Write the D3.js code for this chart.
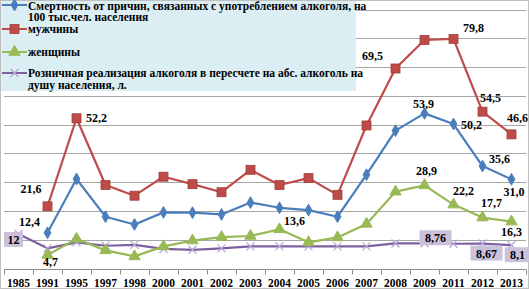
<!DOCTYPE html>
<html>
<head>
<meta charset="utf-8">
<script src="https://cdn.jsdelivr.net/npm/d3@7"></script>
<style>
  body { margin: 0; background: #fff; }
  svg { display: block; font-family: "Liberation Serif", "DejaVu Serif", serif; font-weight: bold; }
</style>
</head>
<body>
<div id="chart"></div>
<script>
var years = ['1985', '1991', '1995', '1997', '1998', '2000', '2001', '2002', '2003', '2004', '2005', '2006', '2007', '2008', '2009', '2011', '2012', '2013']
var total = [null, 12.4, 31.1, 18.0, 15.3, 19.5, 19.4, 18.8, 22.9, 21.1, 20.3, 18.0, 32.6, 47.9, 53.9, 50.2, 35.6, 31.0]
var men = [null, 21.6, 52.2, 29.0, 25.3, 31.9, 29.3, 26.5, 34.3, 29.0, 31.4, 25.6, 49.7, 69.5, 79.4, 79.8, 54.5, 46.6]
var women = [null, 4.7, 10.3, 6.3, 4.2, 7.7, 9.7, 10.9, 11.3, 13.6, 9.1, 10.8, 15.5, 26.7, 28.9, 22.2, 17.7, 16.3]
var retail = [12, 7.0, 9.1, 7.9, 8.2, 6.8, 6.5, 7.0, 7.7, 7.7, 7.7, 7.7, 7.7, 8.7, 8.76, 8.6, 8.67, 8.1]
var yTicks = [0, 10, 20, 30, 40, 50, 60, 70, 80, 90]

var legendLines = [
  ['Смертность от причин, связанных с употреблением алкоголя, на', '100 тыс.чел. населения'],
  ['мужчины'],
  ['женщины'],
  ['Розничная  реализация алкоголя в пересчете на абс. алкоголь на', 'душу населения, л.']
]

// which points get a value label, and where it sits relative to the point
var labels = [
  { s: 'men', i: 1, dx: -16.5, dy: -17 },
  { s: 'men', i: 2, dx: 20, dy: 0 },
  { s: 'men', i: 13, dx: -23, dy: -12 },
  { s: 'men', i: 15, dx: 20, dy: -11 },
  { s: 'men', i: 16, dx: 8, dy: -13.5 },
  { s: 'men', i: 17, dx: 6, dy: -16 },
  { s: 'total', i: 1, dx: -18, dy: -11 },
  { s: 'total', i: 14, dx: -1, dy: -9 },
  { s: 'total', i: 15, dx: 18, dy: 1 },
  { s: 'total', i: 16, dx: 17, dy: -7 },
  { s: 'total', i: 17, dx: 2.5, dy: 12.5 },
  { s: 'women', i: 1, dx: 3, dy: 7 },
  { s: 'women', i: 9, dx: 15, dy: -8 },
  { s: 'women', i: 14, dx: 2, dy: -14.5 },
  { s: 'women', i: 15, dx: 10, dy: -14 },
  { s: 'women', i: 16, dx: 9, dy: -14.5 },
  { s: 'women', i: 17, dx: 0, dy: 10 },
  { s: 'retail', i: 0, dx: -5, dy: 6, box: true },
  { s: 'retail', i: 14, dx: 11, dy: -5, box: true },
  { s: 'retail', i: 16, dx: 4, dy: 10, box: true },
  { s: 'retail', i: 17, dx: 6, dy: 10, box: true }
]

var width = 529, height = 289
var series = [
  { key: 'total', values: total, color: '#4a7ebb', marker: 'diamond' },
  { key: 'men', values: men, color: '#be4b48', marker: 'square' },
  { key: 'women', values: women, color: '#98b954', marker: 'triangle' },
  { key: 'retail', values: retail, color: '#7d60a0', marker: 'cross' }
]

var svg = d3.select('#chart').append('svg')
  .attr('width', width).attr('height', height)

svg.append('rect').attr('x', 0.5).attr('y', 0.5).attr('width', width - 1).attr('height', height - 1)
  .attr('fill', '#fff').attr('stroke', '#bfbfbf')

var x = d3.scaleBand().domain(years).range([4, 526]).padding(0)
var y = d3.scaleLinear().domain([0, 90]).range([268.5, 9.5])
var cx = function (i) { return x(years[i]) + x.bandwidth() / 2 }

// grid
svg.append('g').selectAll('line').data(yTicks.slice(1)).enter().append('line')
  .attr('x1', 4).attr('x2', 526)
  .attr('y1', function (d) { return Math.round(y(d)) + 0.5 })
  .attr('y2', function (d) { return Math.round(y(d)) + 0.5 })
  .attr('stroke', '#a6a6a6').attr('stroke-width', 1)

// x axis
var xAxis = svg.append('g').attr('transform', 'translate(0,' + (Math.round(y(0)) + 0.5) + ')')
xAxis.append('line').attr('x1', 4).attr('x2', 526).attr('stroke', '#8c8c8c')
xAxis.selectAll('.tk').data(years.concat(['end'])).enter().append('line')
  .attr('x1', function (d, i) { return Math.round(4 + i * x.bandwidth()) + 0.5 })
  .attr('x2', function (d, i) { return Math.round(4 + i * x.bandwidth()) + 0.5 })
  .attr('y1', 0).attr('y2', 5).attr('stroke', '#8c8c8c')
xAxis.selectAll('text').data(years).enter().append('text')
  .attr('x', function (d, i) { return cx(i) })
  .attr('y', 17)
  .attr('text-anchor', 'middle')
  .attr('font-size', 11.5)
  .attr('fill', '#000')
  .text(function (d) { return d })

// legend box
var legend = svg.append('g')
legend.append('rect').attr('x', 1).attr('y', 1).attr('width', 355).attr('height', 90)
  .attr('fill', '#dbeef4')

function drawMarker(g, type, color, px, py) {
  if (type === 'diamond') {
    g.append('path').attr('d', d3.symbol().type(d3.symbolDiamond).size(40)())
      .attr('transform', 'translate(' + px + ',' + py + ')')
      .attr('fill', color).attr('stroke', color)
  } else if (type === 'square') {
    g.append('rect').attr('x', px - 4.5).attr('y', py - 4.5).attr('width', 9).attr('height', 9)
      .attr('fill', color).attr('stroke', '#a13e3b').attr('stroke-width', 0.8)
  } else if (type === 'triangle') {
    g.append('path').attr('d', d3.symbol().type(d3.symbolTriangle).size(55)())
      .attr('transform', 'translate(' + px + ',' + py + ')')
      .attr('fill', color).attr('stroke', color)
  } else {
    g.append('path').attr('d', 'M-4,-4L4,4M-4,4L4,-4')
      .attr('transform', 'translate(' + px + ',' + py + ')')
      .attr('fill', 'none').attr('stroke', '#b8a8d8').attr('stroke-width', 1.3)
  }
}

var legendY = [5, 29, 52, 73]
var textY = [[10, 21], [33], [56], [77, 89]]
series.forEach(function (s, k) {
  legend.append('line').attr('x1', 2).attr('x2', 27)
    .attr('y1', legendY[k]).attr('y2', legendY[k])
    .attr('stroke', s.color).attr('stroke-width', 2)
  drawMarker(legend, s.marker, s.color, 14.5, legendY[k])
  legendLines[k].forEach(function (t, j) {
    legend.append('text').attr('x', 28).attr('y', textY[k][j])
      .attr('font-size', 11.5).attr('fill', '#000').text(t)
  })
})

// series lines and markers
var line = d3.line()
  .defined(function (d) { return d !== null })
  .x(function (d, i) { return cx(i) })
  .y(function (d) { return y(d) })

var order = ['retail', 'women', 'total', 'men']
order.forEach(function (key) {
  var s = series.find(function (e) { return e.key === key })
  var g = svg.append('g')
  g.append('path').datum(s.values).attr('d', line)
    .attr('fill', 'none').attr('stroke', s.color).attr('stroke-width', 2.2)
    .attr('stroke-linejoin', 'round')
  s.values.forEach(function (v, i) {
    if (v === null) return
    drawMarker(g, s.marker, s.color, cx(i), y(v))
  })
})

// value labels
var byKey = {}
series.forEach(function (s) { byKey[s.key] = s.values })
var lg = svg.append('g')
labels.forEach(function (l) {
  var v = byKey[l.s][l.i]
  var txt = (l.s === 'retail' ? String(v) : v.toFixed(1)).replace('.', ',')
  var px = cx(l.i) + l.dx, py = y(v) + l.dy
  if (l.box) {
    var w = txt.length * 6.5 + 6
    lg.append('rect').attr('x', px - w / 2).attr('y', py - 8).attr('width', w).attr('height', 15)
      .attr('fill', '#ccc1da')
  }
  lg.append('text').attr('x', px).attr('y', py + 4)
    .attr('text-anchor', 'middle').attr('font-size', 12).attr('fill', '#000')
    .text(txt)
})
</script>
</body>
</html>
